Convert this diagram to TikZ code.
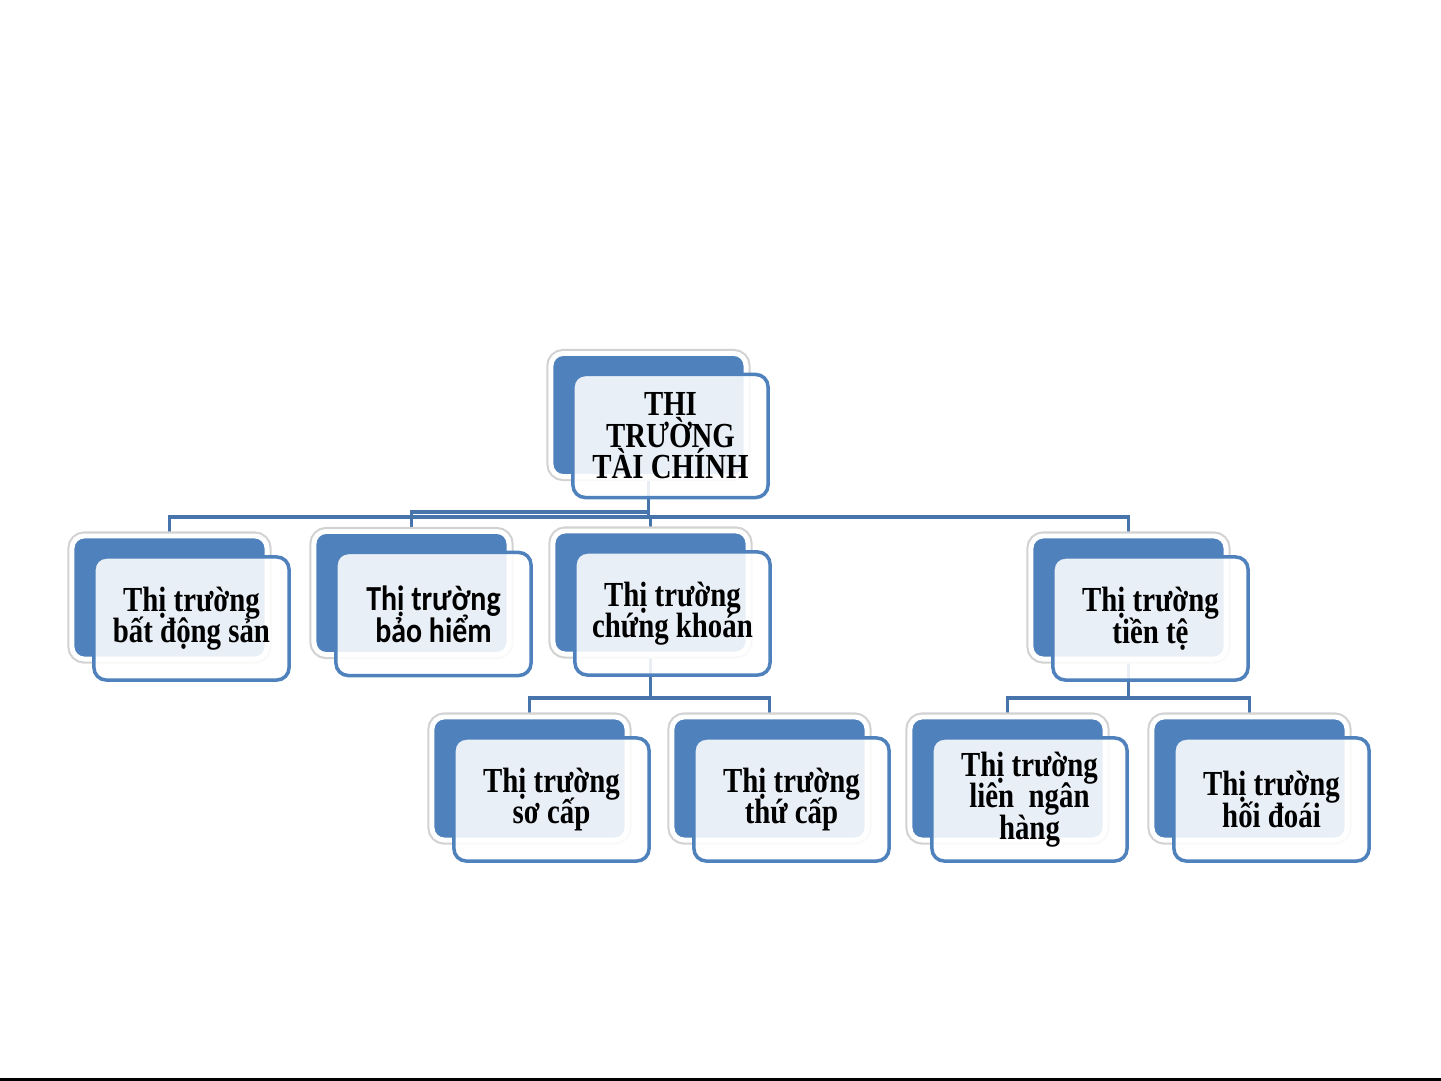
\documentclass[tikz,border=0pt]{standalone}
\usepackage{fontspec}
\setmainfont{Liberation Serif}[FakeStretch=0.82]
\newfontfamily\calib{Carlito}[FakeStretch=0.85]
\usepackage{tikz}
\usetikzlibrary{backgrounds}
\definecolor{boxblue}{HTML}{4F81BD}
\definecolor{linkblue}{HTML}{4674AB}
\newcommand{\boxwd}{1.95cm}
\newcommand{\boxht}{1.23cm}
\newcommand{\tightlines}{\lineskiplimit-10pt\relax}

\tikzset{
  back/.style={draw=white, line width=1.4pt, fill=boxblue, rounded corners=3.5pt,
    minimum width=\boxwd, minimum height=\boxht, inner sep=0pt,
    preaction={draw=gray!35, line width=2.6pt}},
  front/.style={draw=boxblue, line width=1pt, fill=white, fill opacity=.88, text opacity=1,
    rounded corners=3.5pt, minimum width=\boxwd, minimum height=\boxht, inner sep=1pt,
    align=center, font={\bfseries\fontsize{10}{9}\selectfont\tightlines}},
  link/.style={draw=linkblue, line width=1.1pt}
}

\begin{document}
\begin{tikzpicture}[x=0.01cm, y=-0.01cm]
      \useasboundingbox (0,0) rectangle (1441,1081);
          %%  back boxes %%
      \foreach \n/\x/\y in {0/648.5/415, 1/169.5/597.5, 2/411.5/593, 3/650.5/592.5, 4/1128.5/597.5,
                            5/529.5/778.5, 6/769.5/778.5, 7/1007.5/778.5, 8/1249.5/778.5}
      { \node (b\n) at (\x,\y) [back] {};}

          %%  front boxes %%
      \node (f0) at ([shift={(22,21)}]b0) [front] {THI\\TRƯỜNG\\TÀI CHÍNH};
      \node (f1) at ([shift={(22,21)}]b1) [front] {Thị trường\\bất động sản};
      \node (f2) at ([shift={(22,21)}]b2) [front, font={\calib\bfseries\fontsize{10}{9}\selectfont\tightlines}] {Thị trường\\bảo hiểm};
      \node (f3) at ([shift={(22,21)}]b3) [front] {Thị trường\\chứng khoán};
      \node (f4) at ([shift={(22,21)}]b4) [front] {Thị trường\\tiền tệ};
      \node (f5) at ([shift={(22,21)}]b5) [front] {Thị trường\\sơ cấp};
      \node (f6) at ([shift={(22,21)}]b6) [front] {Thị trường\\thứ cấp};
      \node (f7) at ([shift={(22,21)}]b7) [front] {Thị trường\\liên\ \ ngân\\hàng};
      \node (f8) at ([shift={(22,21)}]b8) [front] {Thị trường\\hối đoái};

      \begin{scope}[on background layer]
      \foreach \c/\y in {1/517, 2/512, 3/517, 4/517}
      { \draw[link] (b0.south) -- (b0.south |- 0,\y) -| (b\c.north);}
      \foreach \c in {5,6}
      { \draw[link] (b3.south) -- (b3.south |- 0,698) -| (b\c.north);}
      \foreach \c in {7,8}
      { \draw[link] (b4.south) -- (b4.south |- 0,698) -| (b\c.north);}
      \end{scope}

      \draw[black, line width=.6pt] (0,1079.5) -- (1441,1079.5);
\end{tikzpicture}
\end{document}
